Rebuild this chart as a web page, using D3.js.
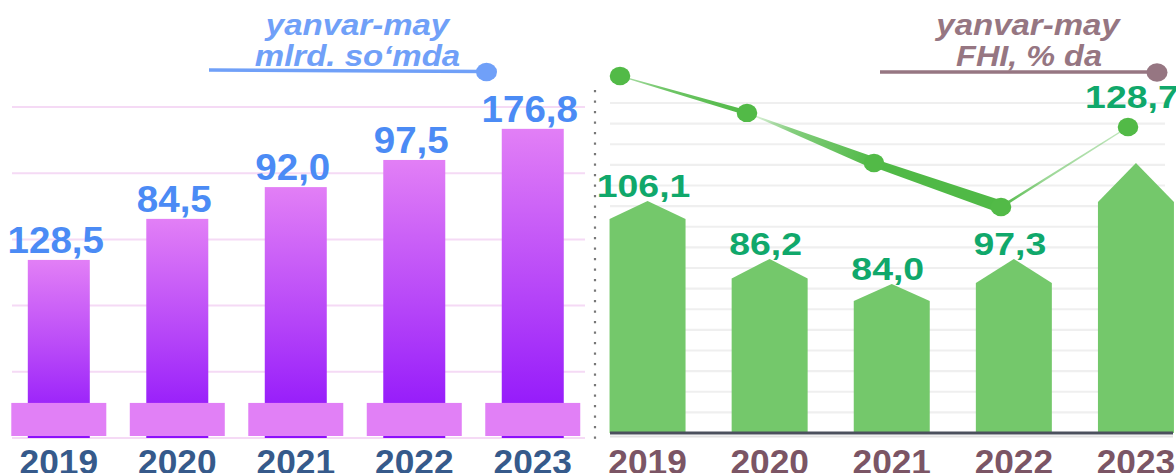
<!DOCTYPE html>
<html>
<head>
<meta charset="utf-8">
<script src="https://cdn.jsdelivr.net/npm/d3@7"></script>
<style>
  html, body { margin: 0; padding: 0; background: #ffffff; }
  svg { display: block; }
  text { font-family: "Liberation Sans", Arial, Helvetica, sans-serif; font-weight: bold; }
</style>
</head>
<body>
<svg id="chart" width="1176" height="473"></svg>
<script>
// ---------------- DATA ----------------
const years = ["2019", "2020", "2021", "2022", "2023"];

// left panel (bar heights as drawn, on a 0..100 grid scale)
const leftBarValues = [53.8, 66.2, 75.8, 84.0, 93.4];
const leftLabels = ["128,5", "84,5", "92,0", "97,5", "176,8"];
const leftTitle = ["yanvar-may", "mlrd. so\u2018mda"];

// right panel (house-shaped bars on a 0..160 grid scale)
const rightPeakValues = [112.5, 84.4, 72.2, 84.4, 130.9];
const rightShoulderValues = [103.8, 74.9, 64.0, 72.7, 112.0];
const rightLineValues = [173.1, 155.2, 130.9, 109.6, 148.4];
const rightLabels = ["106,1", "86,2", "84,0", "97,3", "128,7"];
const rightTitle = ["yanvar-may", "FHI, % da"];

// ---------------- SETUP ----------------
const svg = d3.select("#chart");
svg.append("rect").attr("width", 1176).attr("height", 473).attr("fill", "#ffffff");
const defs = svg.append("defs");

function sText(g, x, y, txt, size, sx, fill, italic) {
  const t = g.append("text")
    .attr("transform", `translate(${x},${y}) scale(${sx},1)`)
    .attr("text-anchor", "middle")
    .attr("font-size", size)
    .attr("fill", fill)
    .text(txt);
  if (italic) t.attr("font-style", "italic");
  return t;
}

// ---------------- LEFT PANEL ----------------
const L = svg.append("g");
const xL = d3.scaleBand().domain(years).range([-0.45, 592]).padding(0);
const yL = d3.scaleLinear().domain([0, 100]).range([438, 107]);
const cxL = d => xL(d) + xL.bandwidth() / 2;

// gradient for bars
const lg = defs.append("linearGradient").attr("id", "violet")
  .attr("x1", 0).attr("y1", 0).attr("x2", 0).attr("y2", 1);
lg.append("stop").attr("offset", "0%").attr("stop-color", "#e27ff6");
lg.append("stop").attr("offset", "55%").attr("stop-color", "#b443f8");
lg.append("stop").attr("offset", "100%").attr("stop-color", "#8c0ffb");

// gridlines
L.selectAll("line.grid").data(yL.ticks(5)).join("line")
  .attr("x1", 12).attr("x2", 585)
  .attr("y1", d => yL(d)).attr("y2", d => yL(d))
  .attr("stroke", "#f5daf5").attr("stroke-width", 2);

// bars
L.selectAll("rect.bar").data(years).join("rect")
  .attr("x", d => cxL(d) - 31).attr("width", 62)
  .attr("y", (d, i) => yL(leftBarValues[i]))
  .attr("height", (d, i) => yL(0) - yL(leftBarValues[i]))
  .attr("fill", "url(#violet)");

// base blocks
L.selectAll("rect.base").data(years).join("rect")
  .attr("x", d => cxL(d) - 47.5).attr("width", 95)
  .attr("y", yL(10.6)).attr("height", yL(0.6) - yL(10.6))
  .attr("fill", "#e180f6");

// value labels
years.forEach((d, i) => {
  sText(L, cxL(d) - 3, yL(leftBarValues[i]) - 7, leftLabels[i], 36, 1.07, "#4b8bf5");
  sText(L, cxL(d), 474, d, 36, 0.98, "#365a8b");
});

// title
sText(L, 357.5, 35, leftTitle[0], 30, 1.1, "#70a0f8", true);
sText(L, 357.5, 65.5, leftTitle[1], 30, 1.1, "#70a0f8", true);
L.append("line").attr("x1", 209).attr("x2", 482).attr("y1", 70).attr("y2", 71.5)
  .attr("stroke", "#70a0f8").attr("stroke-width", 3.5);
L.append("ellipse").attr("cx", 486.5).attr("cy", 72).attr("rx", 10.5).attr("ry", 9.3)
  .attr("fill", "#70a0f8");

// ---------------- DIVIDER ----------------
svg.append("line").attr("x1", 595).attr("x2", 595).attr("y1", 90).attr("y2", 446)
  .attr("stroke", "#777777").attr("stroke-width", 2.2).attr("stroke-dasharray", "2.2,8.3");

// ---------------- RIGHT PANEL ----------------
const R = svg.append("g");
const xR = d3.scaleBand().domain(years).range([586.5, 1197]).padding(0);
const yR = d3.scaleLinear().domain([0, 160]).range([433, 103]);
const cxR = d => xR(d) + xR.bandwidth() / 2;
const xLine = d3.scalePoint().domain(years).range([620, 1128]);

// gridlines
R.selectAll("line.grid").data(yR.ticks(16).filter(t => t > 0)).join("line")
  .attr("x1", 610).attr("x2", 1165)
  .attr("y1", d => yR(d)).attr("y2", d => yR(d))
  .attr("stroke", "#efefef").attr("stroke-width", 2.2);

// house-shaped bars
const bw = 76;
R.selectAll("path.bar").data(years).join("path")
  .attr("d", (d, i) => {
    const c = cxR(d), l = c - bw / 2, r = c + bw / 2;
    const p = d3.path();
    p.moveTo(l, yR(0));
    p.lineTo(l, yR(rightShoulderValues[i]));
    p.lineTo(c, yR(rightPeakValues[i]));
    p.lineTo(r, yR(rightShoulderValues[i]));
    p.lineTo(r, yR(0));
    p.closePath();
    return p.toString();
  })
  .attr("fill", "#74c86b");

// axis baseline
R.append("line").attr("x1", 610).attr("x2", 1173).attr("y1", 436.5).attr("y2", 436.5)
  .attr("stroke", "#e2e2e2").attr("stroke-width", 2);
R.append("line").attr("x1", 610).attr("x2", 1173).attr("y1", yR(0)).attr("y2", yR(0))
  .attr("stroke", "#4b505d").attr("stroke-width", 3);

// tapered line segments
const pts = years.map((d, i) => [xLine(d), yR(rightLineValues[i])]);
const segStyle = [
  { w0: 1.0, w1: 5.0, o0: 0.45, o1: 1 },
  { w0: 0.6, w1: 11.5, o0: 0.1, o1: 1 },
  { w0: 8.0, w1: 12.5, o0: 1, o1: 1 },
  { w0: 2.8, w1: 1.2, o0: 1, o1: 0.35 }
];
for (let i = 0; i < pts.length - 1; i++) {
  const a = pts[i], b = pts[i + 1], s = segStyle[i];
  const dx = b[0] - a[0], dy = b[1] - a[1], len = Math.hypot(dx, dy);
  const nx = -dy / len, ny = dx / len;
  const gid = "seg" + i;
  const g = defs.append("linearGradient").attr("id", gid)
    .attr("gradientUnits", "userSpaceOnUse")
    .attr("x1", a[0]).attr("y1", a[1]).attr("x2", b[0]).attr("y2", b[1]);
  g.append("stop").attr("offset", "0%").attr("stop-color", "#50b946").attr("stop-opacity", s.o0);
  g.append("stop").attr("offset", "35%").attr("stop-color", "#50b946").attr("stop-opacity", (s.o0 + 2 * s.o1) / 3);
  g.append("stop").attr("offset", "100%").attr("stop-color", "#50b946").attr("stop-opacity", s.o1);
  const poly = [
    [a[0] + nx * s.w0 / 2, a[1] + ny * s.w0 / 2],
    [b[0] + nx * s.w1 / 2, b[1] + ny * s.w1 / 2],
    [b[0] - nx * s.w1 / 2, b[1] - ny * s.w1 / 2],
    [a[0] - nx * s.w0 / 2, a[1] - ny * s.w0 / 2]
  ];
  R.append("path").attr("d", d3.line()(poly) + "Z").attr("fill", `url(#${gid})`);
}

// markers
R.selectAll("ellipse.pt").data(pts).join("ellipse")
  .attr("cx", d => d[0]).attr("cy", d => d[1])
  .attr("rx", 10.3).attr("ry", 9.2)
  .attr("fill", "#52ba47");

// labels
const last = years.length - 1;
years.forEach((d, i) => {
  const ly = i === last ? yR(rightLineValues[i]) - 19 : yR(rightPeakValues[i]) - 4;
  sText(R, cxR(d) - 4, ly, rightLabels[i], 32, 1.17, "#10a86b");
  sText(R, cxR(d), 474, d, 36, 0.98, "#7b5565");
});

// title
sText(R, 1028, 35, rightTitle[0], 30, 1.1, "#967682", true);
sText(R, 1029, 66, rightTitle[1], 30, 1.08, "#967682", true);
R.append("line").attr("x1", 880).attr("x2", 1152).attr("y1", 72).attr("y2", 72)
  .attr("stroke", "#967682").attr("stroke-width", 3.5);
R.append("ellipse").attr("cx", 1157).attr("cy", 72.5).attr("rx", 10.5).attr("ry", 9.2)
  .attr("fill", "#967682");
</script>
</body>
</html>
